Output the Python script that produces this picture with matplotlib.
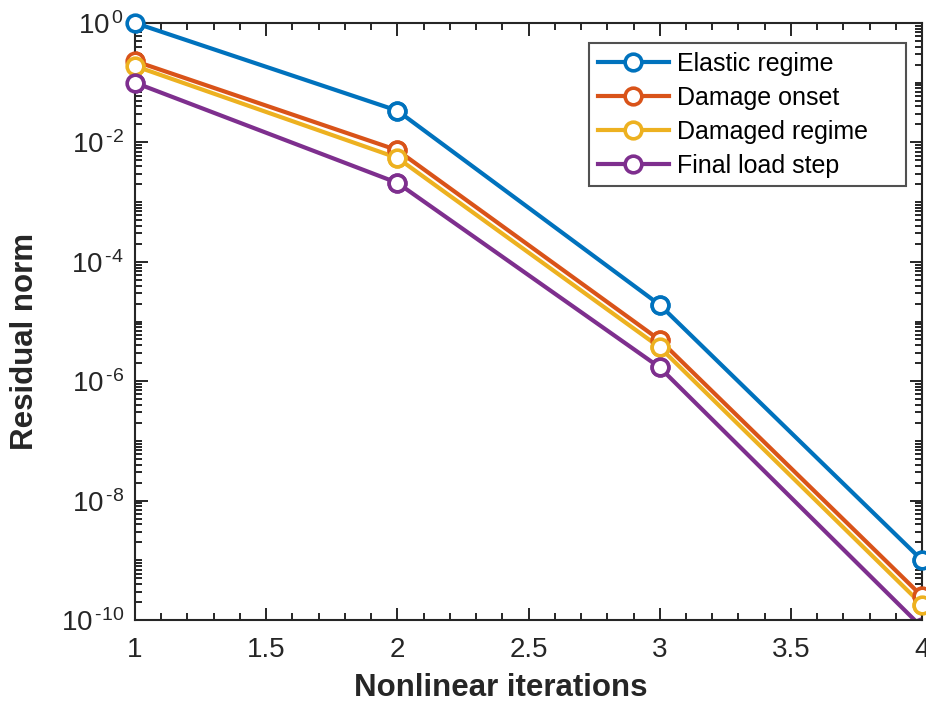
import matplotlib
matplotlib.use('Agg')
import matplotlib.pyplot as plt
from matplotlib.ticker import FixedLocator, MultipleLocator, LogLocator, NullFormatter, FuncFormatter
import numpy as np

plt.rcParams['font.family'] = ['Liberation Sans', 'DejaVu Sans']
plt.rcParams['mathtext.fontset'] = 'custom'
plt.rcParams['mathtext.rm'] = 'Liberation Sans'
plt.rcParams['mathtext.it'] = 'Liberation Sans'

# residual history per load stage
iterations = [1, 2, 3, 4]
elastic = [1.0, 3.4e-2, 1.9e-5, 1.0e-9]
onset = [0.23, 7.4e-3, 4.9e-6, 2.5e-10]
damaged = [0.19, 5.5e-3, 3.7e-6, 1.8e-10]
final = [0.10, 2.1e-3, 1.7e-6, 7.5e-11]
labels = ['Elastic regime', 'Damage onset', 'Damaged regime', 'Final load step']
colors = ['#0072BD', '#D95319', '#EDB120', '#7E2F8E']

ymin, ymax = 1e-10, 1e0

fig = plt.figure(figsize=(9.26, 7.07), dpi=100)
ax = fig.add_axes([0.1458, 0.123, 0.8500, 0.8445])

for ys, lab, c in zip([elastic, onset, damaged, final], labels, colors):
    ax.semilogy(iterations, ys, '-o', color=c, lw=3, ms=12, mew=2.6,
                mfc='white', mec=c, label=lab)
    # markers inside the y range are drawn whole, even at the box edge
    x = np.array(iterations)
    y = np.array(ys)
    keep = (y >= ymin) & (y <= ymax)
    ax.plot(x[keep], y[keep], 'o', ms=12, mew=2.6, mfc='white', mec=c,
            clip_on=False, zorder=3)

ax.set_xlim(1, 4)
ax.set_ylim(ymin, ymax)
ax.xaxis.set_major_locator(MultipleLocator(0.5))
ax.xaxis.set_minor_locator(MultipleLocator(0.1))
ax.yaxis.set_major_locator(FixedLocator([1e-10, 1e-8, 1e-6, 1e-4, 1e-2, 1e0]))
ax.yaxis.set_major_formatter(FuncFormatter(
    lambda v, p: r'$10^{\,\text{%d}}$' % int(round(np.log10(v)))))
ax.yaxis.set_minor_locator(LogLocator(base=10, subs=range(1, 10), numticks=30))
ax.yaxis.set_minor_formatter(NullFormatter())
ax.xaxis.set_major_formatter(FuncFormatter(lambda v, p: '%g' % v))

ax.tick_params(which='both', direction='in', top=True, right=True,
               color='#262626', labelcolor='#262626', labelsize=20, width=1.4)
ax.tick_params(which='major', length=9)
ax.tick_params(which='minor', length=5)
ax.tick_params(axis='x', pad=12)
ax.tick_params(axis='y', pad=8)
for s in ax.spines.values():
    s.set_linewidth(1.5)
    s.set_color('#262626')

ax.set_xlabel('Nonlinear iterations', fontsize=22.5, fontweight='bold', color='#262626')
ax.set_ylabel('Residual norm', fontsize=22.5, fontweight='bold', color='#262626')
ax.xaxis.set_label_coords(0.465, -0.114)
ax.yaxis.set_label_coords(-0.140, 0.467)
ax.xaxis.label.set_va('center')
ax.yaxis.label.set_va('center')

leg = ax.legend(loc='upper left', bbox_to_anchor=(0.5769, 0.3, 0.4028, 0.6665),
                mode='expand', fontsize=18, frameon=True, fancybox=False,
                edgecolor='#262626', borderaxespad=0, handlelength=2.85,
                borderpad=0.35, labelspacing=0.4, handletextpad=0.3)
leg.get_frame().set_linewidth(1.5)

fig.savefig('out.png', dpi=100)
